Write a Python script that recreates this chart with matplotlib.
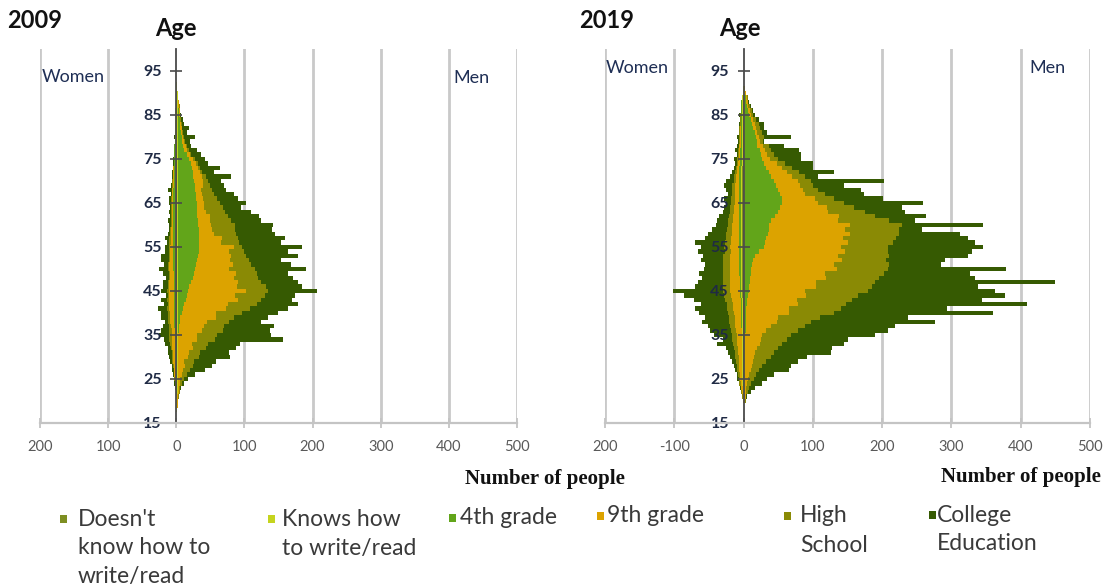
import numpy as np
import matplotlib
matplotlib.use("Agg")
import matplotlib.pyplot as plt
from matplotlib.patches import Rectangle

plt.rcParams["font.family"] = ["Lato", "DejaVu Sans"]

# Single years of age shown in both pyramids
ages = list(range(18, 93))

categories = ["Doesn't know how to write/read", "Knows how to write/read",
              "4th grade", "9th grade", "High School", "College Education"]
legend_lines = [["Doesn't", "know how to", "write/read"],
                ["Knows how", "to write/read"],
                ["4th grade"], ["9th grade"],
                ["High", "School"], ["College", "Education"]]
colors = ["#7E8F22", "#C5D41E", "#62A51A", "#DCA300", "#8A8A05", "#365A02"]

# ---------------- 2009, men (people per age, ages 18..92) ----------------
m09_dk = [0, 0, 0, 0, 1, 1, 1, 1, 1, 1] + [1] * 60 + [1, 1, 1, 0, 0]
m09_kn = [1] * 75
m09_g4 = ([0] * 10 + [1, 1, 1, 1, 1, 1, 1, 1, 2, 2]
          + [3, 4, 6, 8, 10, 12, 14, 15, 17, 20]
          + [22, 24, 25, 27, 28, 30, 31, 32, 32, 31]
          + [31, 31, 30, 30, 29, 29, 28, 28, 27, 27]
          + [26, 25, 24, 23, 22, 21, 20, 16, 13, 10]
          + [8, 7, 6, 5, 4, 3, 3, 2, 2, 1] + [1, 1, 0, 0, 0])
m09_g9 = ([0, 1, 1, 2, 2, 2, 3, 4, 6, 8]
          + [10, 9, 14, 15, 21, 20, 27, 28, 34, 36]
          + [40, 52, 50, 63, 64, 76, 70, 86, 70, 69]
          + [60, 61, 51, 54, 49, 48, 44, 50, 31, 34]
          + [23, 19, 19, 18, 18, 12, 11, 10, 10, 9]
          + [9, 12, 13, 13, 11, 9, 7, 6, 5, 4]
          + [4, 3, 2, 2, 2, 2, 1, 1, 1, 1] + [1, 0, 0, 0, 0])
m09_hs = ([0, 0, 1, 1, 1, 2, 4, 6, 8, 10]
          + [12, 14, 16, 17, 20, 23, 27, 29, 30, 30]
          + [33, 26, 38, 35, 42, 34, 44, 32, 43, 34]
          + [36, 31, 37, 27, 27, 22, 23, 12, 27, 23]
          + [32, 34, 35, 30, 27, 29, 27, 24, 21, 18]
          + [15, 11, 8, 5, 3, 3, 3, 3, 2, 2]
          + [1, 1, 2, 1, 1, 1, 1, 1, 1, 1] + [0, 0, 0, 0, 0])
m09_col = ([0, 0, 0, 0, 0, 1, 3, 5, 11, 22]
           + [27, 33, 46, 42, 44, 48, 99, 79, 69, 73]
           + [47, 51, 54, 56, 61, 46, 44, 71, 52, 54]
           + [52, 46, 76, 58, 48, 77, 64, 88, 62, 69]
           + [57, 54, 56, 45, 46, 38, 27, 39, 30, 29]
           + [21, 20, 19, 38, 17, 29, 15, 15, 15, 12]
           + [7, 7, 15, 5, 9, 4, 3, 1, 0, 0] + [0, 0, 0, 0, 0])

# ---------------- 2009, women ----------------
w09_dk = [0] * 10 + [1] * 59 + [0] + [0] * 5
w09_kn = [0, 0, 0, 0, 0, 0, 0, 1, 1, 1] + [1] * 60 + [1, 1, 0, 0, 0]
w09_g4 = ([0] * 10 + [0, 0, 0, 0, 0, 0, 0, 0, 0, 1]
          + [1, 1, 1, 1, 1, 1, 2, 2, 2, 2]
          + [2, 2, 3, 3, 3, 3, 3, 3, 3, 3]
          + [3] * 10
          + [3, 2, 2, 2, 2, 2, 1, 1, 1, 1]
          + [1, 0, 0, 0, 0, 0, 0, 0, 0, 0] + [0] * 5)
w09_g9 = ([0, 0, 0, 1, 1, 1, 1, 1, 2, 2]
          + [2, 3, 3, 3, 4, 4, 5, 5, 5, 5]
          + [6, 6, 6, 7, 7, 7, 6, 7, 6, 6]
          + [5, 5, 5, 5, 4, 4, 4, 4, 3, 3]
          + [3, 3, 2, 2, 2, 2, 2, 2, 2, 1]
          + [1, 1, 1, 1, 1, 1, 1, 1, 0, 0]
          + [0] * 10 + [0] * 5)
w09_hs = ([0, 0, 0, 0, 0, 1, 1, 1, 1, 1]
          + [1, 2, 2, 2, 2, 3, 3, 4, 3, 3]
          + [3, 3, 3, 3, 2, 3, 2, 3, 2, 2]
          + [2] * 10
          + [1] * 10
          + [1, 1, 1, 0, 0, 0, 0, 0, 0, 0]
          + [0] * 10 + [0] * 5)
w09_col = ([0, 0, 0, 0, 0, 0, 1, 1, 1, 2]
           + [2, 2, 3, 5, 4, 7, 8, 14, 12, 9]
           + [5, 10, 10, 14, 6, 9, 3, 8, 8, 8]
           + [4, 9, 13, 6, 11, 11, 6, 6, 4, 7]
           + [3, 2, 2, 4, 1, 2, 1, 2, 3, 1]
           + [5, 2, 1, 1, 2, 0, 1, 1, 1, 0]
           + [1, 0, 1, 0, 0, 0, 0, 0, 0, 0] + [0] * 5)

# ---------------- 2019, men ----------------
m19_dk = [0, 0, 0, 0, 1, 1, 1, 1, 1, 1] + [1] * 60 + [1, 1, 1, 0, 0]
m19_kn = [0, 0, 1, 1, 1, 1, 1, 1, 1, 1] + [1] * 65
m19_g4 = ([0] * 10 + [0, 0, 0, 0, 0, 0, 0, 0, 1, 1]
          + [1, 1, 2, 2, 3, 3, 4, 6, 6, 7]
          + [7, 8, 8, 10, 12, 15, 20, 27, 29, 31]
          + [33, 34, 35, 38, 43, 48, 51, 54, 53, 51]
          + [48, 45, 42, 38, 34, 31, 28, 25, 23, 21]
          + [18, 17, 16, 14, 12, 10, 8, 6, 5, 3] + [2, 1, 0, 0, 0])
m19_g9 = ([0, 1, 1, 2, 2, 2, 3, 4, 6, 8]
          + [10, 11, 13, 15, 18, 21, 23, 25, 30, 37]
          + [45, 47, 62, 61, 73, 72, 84, 80, 96, 95]
          + [110, 108, 125, 119, 128, 119, 124, 112, 120, 111]
          + [118, 110, 116, 96, 93, 72, 68, 52, 48, 36]
          + [36, 35, 34, 30, 26, 22, 18, 11, 9, 8]
          + [8, 5, 4, 4, 4, 4, 4, 3, 2, 2] + [2, 2, 1, 1, 0])
m19_hs = ([0, 0, 1, 1, 2, 4, 5, 9, 10, 12]
          + [14, 20, 24, 27, 30, 33, 37, 41, 45, 48]
          + [50, 61, 65, 76, 70, 79, 75, 91, 81, 86]
          + [77, 84, 73, 79, 64, 74, 62, 67, 64, 76]
          + [72, 79, 75, 74, 52, 53, 39, 37, 27, 29]
          + [22, 18, 19, 18, 18, 15, 12, 11, 10, 9]
          + [8, 4, 8, 6, 6, 6, 4, 3, 3, 2] + [1, 1, 0, 0, 0])
m19_col = ([0, 0, 0, 1, 4, 9, 17, 19, 26, 44]
           + [42, 45, 53, 82, 78, 89, 88, 121, 130, 130]
           + [178, 127, 229, 153, 261, 188, 212, 184, 154, 260]
           + [138, 125, 171, 75, 84, 114, 121, 138, 119, 104]
           + [87, 32, 118, 37, 74, 58, 68, 114, 71, 56]
           + [62, 45, 106, 19, 51, 30, 40, 34, 39, 40]
           + [22, 1, 38, 8, 6, 7, 4, 3, 2, 1] + [1, 0, 0, 0, 0])

# ---------------- 2019, women ----------------
w19_dk = ([0, 0, 0, 0, 0, 0, 1, 1, 1, 1] + [1] * 10
          + [1, 1, 1, 1, 1, 1, 2, 2, 2, 2] + [2] * 10 + [2] * 10
          + [2, 2, 2, 2, 2, 2, 1, 1, 1, 1] + [1] * 10 + [1, 1, 0, 0, 0])
w19_kn = [0, 0, 0, 0, 1, 1, 1, 1, 1, 1] + [1] * 60 + [1, 1, 1, 1, 0]
w19_g4 = ([0] * 10 + [0, 0, 0, 0, 0, 0, 0, 0, 0, 1]
          + [1, 1, 1, 1, 1, 2, 2, 2, 2, 2]
          + [2, 3, 3, 3, 3, 3, 3, 4, 4, 4]
          + [4] * 10
          + [4, 4, 4, 4, 3, 3, 3, 3, 3, 3]
          + [2, 2, 2, 2, 2, 1, 1, 1, 1, 1] + [1, 0, 0, 0, 0])
w19_g9 = ([0, 0, 1, 1, 1, 2, 2, 3, 3, 4]
          + [4, 5, 5, 6, 6, 7, 7, 8, 9, 9]
          + [10, 10, 11, 12, 12, 13, 13, 14, 14, 14]
          + [14, 14, 14, 13, 13, 13, 12, 12, 11, 11]
          + [10, 9, 9, 8, 8, 7, 7, 6, 6, 5]
          + [5, 5, 4, 4, 3, 3, 3, 2, 2, 2]
          + [2, 1, 1, 1, 1, 1, 1, 1, 1, 0] + [0] * 5)
w19_hs = ([0, 0, 0, 1, 1, 1, 2, 2, 3, 3]
          + [4, 4, 5, 5, 6, 6, 7, 7, 7, 8]
          + [8, 8, 9, 9, 9, 10, 10, 10, 10, 10]
          + [10, 10, 10, 10, 10, 10, 9, 9, 9, 8]
          + [8, 8, 7, 7, 6, 6, 5, 5, 5, 4]
          + [4, 4, 3, 3, 3, 2, 2, 2, 1, 1]
          + [1, 1, 1, 1, 1, 1, 1, 1, 0, 0] + [0] * 5)
w19_col = ([0, 0, 0, 0, 0, 1, 1, 2, 2, 3]
           + [4, 5, 7, 9, 11, 23, 14, 26, 30, 32]
           + [39, 35, 41, 46, 38, 45, 58, 73, 41, 37]
           + [31, 34, 27, 26, 33, 29, 39, 34, 43, 29]
           + [27, 21, 17, 16, 15, 10, 9, 8, 10, 6]
           + [9, 12, 12, 6, 4, 3, 2, 5, 2, 4]
           + [2, 2, 3, 1, 0, 1, 0, 2, 0, 0] + [0] * 5)

x_ticks = [-200, -100, 0, 100, 200, 300, 400, 500]
x_labels_2009 = ["200", "100", "0", "100", "200", "300", "400", "500"]
x_labels_2019 = ["200", "-100", "0", "100", "200", "300", "400", "500"]
y_ticks = [15, 25, 35, 45, 55, 65, 75, 85, 95]

W, H = 1105, 586
fig = plt.figure(figsize=(W / 100, H / 100), dpi=100)


def px(x, y):
    return x / W, 1 - y / H


def pyramid(rect, women, men, xlabels):
    ax = fig.add_axes(rect)
    for groups, sign in ((women, -1), (men, 1)):
        base = np.zeros(len(ages))
        for vals, col in zip(groups, colors):
            v = np.asarray(vals, dtype=float)
            ax.barh(ages, sign * v, left=sign * base, height=1.0,
                    color=col, linewidth=0, zorder=1)
            base += v
    ax.set_xlim(-200, 500)
    ax.set_ylim(15, 100)
    for x in x_ticks:
        if x != 0:
            ax.axvline(x, color="#C9C9C9", lw=2, zorder=0)
    for s in ("top", "right"):
        ax.spines[s].set_visible(False)
    ax.spines["left"].set_position(("data", 0))
    ax.spines["left"].set_color("#4A4A4A")
    ax.spines["left"].set_linewidth(1.3)
    ax.spines["bottom"].set_color("#C4C4C4")
    ax.spines["bottom"].set_linewidth(1.6)
    ax.set_xticks(x_ticks)
    ax.set_xticklabels(xlabels)
    ax.set_yticks(y_ticks)
    ax.tick_params(axis="x", direction="inout", length=7, width=1.3,
                   color="#C4C4C4", labelcolor="#595959", labelsize=10.5, pad=9)
    ax.tick_params(axis="y", direction="inout", length=9, width=1.2,
                   color="#4A4A4A", labelcolor="#1F2A44", labelsize=11.5, pad=6)
    for lab in ax.get_yticklabels():
        lab.set_fontweight("bold")
    ax.patch.set_alpha(0)
    return ax


b, h = 1 - 423 / H, (423 - 49) / H
ax1 = pyramid([40 / W, b, 477 / W, h],
              [w09_dk, w09_kn, w09_g4, w09_g9, w09_hs, w09_col],
              [m09_dk, m09_kn, m09_g4, m09_g9, m09_hs, m09_col],
              x_labels_2009)
ax2 = pyramid([605 / W, b, 485 / W, h],
              [w19_dk, w19_kn, w19_g4, w19_g9, w19_hs, w19_col],
              [m19_dk, m19_kn, m19_g4, m19_g9, m19_hs, m19_col],
              x_labels_2019)

txt_col = "#1F2F55"
ax1.text(-197, 93.6, "Women", fontsize=13, color=txt_col, va="center")
ax1.text(406, 93.4, "Men", fontsize=13, color=txt_col, va="center")
ax2.text(-199, 95.6, "Women", fontsize=13, color=txt_col, va="center")
ax2.text(413, 95.6, "Men", fontsize=13, color=txt_col, va="center")

# Titles and axis captions
fig.text(*px(7, 21), "2009", fontsize=17, fontweight="bold", va="center", ha="left", color="#111111")
fig.text(*px(579, 21), "2019", fontsize=17, fontweight="bold", va="center", ha="left", color="#111111")
fig.text(*px(176, 28), "Age", fontsize=17, fontweight="bold", va="center", ha="center", color="#111111")
fig.text(*px(740, 28), "Age", fontsize=17, fontweight="bold", va="center", ha="center", color="#111111")
fig.text(*px(625, 479), "Number of people", fontsize=15, fontweight="bold",
         family=["Liberation Serif", "DejaVu Serif"], va="center", ha="right", color="#111111")
fig.text(*px(1101, 477), "Number of people", fontsize=15, fontweight="bold",
         family=["Liberation Serif", "DejaVu Serif"], va="center", ha="right", color="#111111")

# Legend along the bottom
marker_x = [60, 268, 449, 597, 784, 929]
text_x = [78, 282, 460, 607, 800, 937]
first_y = [519, 519, 518, 516, 516, 515]
for mx, tx, fy, lines, col in zip(marker_x, text_x, first_y, legend_lines, colors):
    sx, sy = px(mx, fy + 4)
    fig.patches.append(Rectangle((sx, sy), 7 / W, 8 / H, transform=fig.transFigure,
                                 facecolor=col, edgecolor="none"))
    for i, line in enumerate(lines):
        fig.text(*px(tx, fy + 29 * i), line, fontsize=16.5, color="#3A3A3A",
                 va="center", ha="left")

fig.savefig("out.png", dpi=100)
